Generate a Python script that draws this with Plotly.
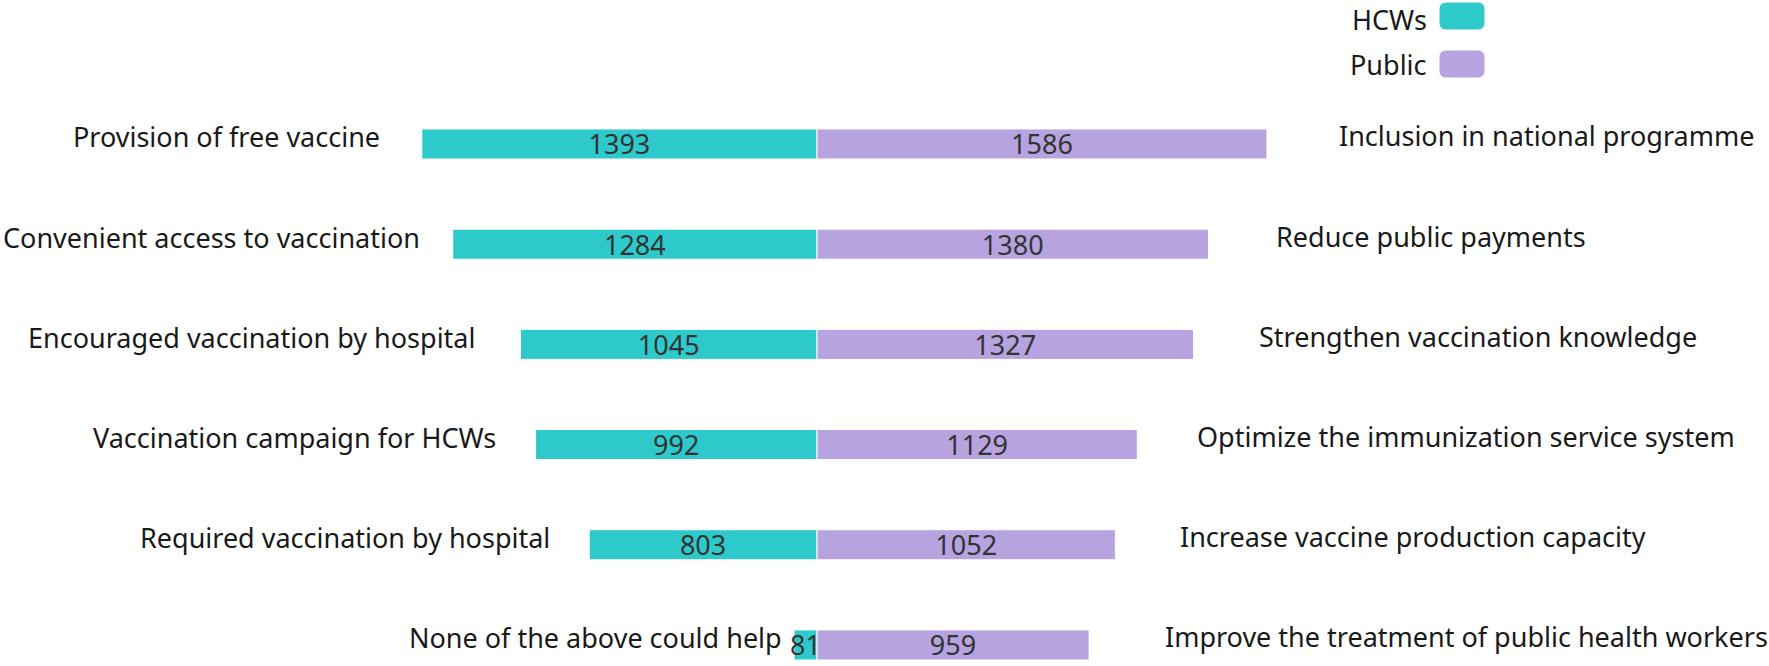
import plotly.graph_objects as go

# Data
hcw_labels = ["Provision of free vaccine", "Convenient access to vaccination",
              "Encouraged vaccination by hospital", "Vaccination campaign for HCWs",
              "Required vaccination by hospital", "None of the above could help"]
hcw_values = [1393, 1284, 1045, 992, 803, 81]
public_labels = ["Inclusion in national programme", "Reduce public payments",
                 "Strengthen vaccination knowledge", "Optimize the immunization service system",
                 "Increase vaccine production capacity", "Improve the treatment of public health workers"]
public_values = [1586, 1380, 1327, 1129, 1052, 959]

# label gap (px) from bar ends
left_gap = [40, 31, 44, 38, 37, 10]
right_gap = [70, 65, 64, 58, 63, 74]

TEAL = "#2ECACB"
LAV = "#B7A3E0"
FONT = "Noto Sans"
FS = 27

rows = list(range(len(hcw_values)))

fig = go.Figure()
fig.add_trace(go.Bar(
    y=rows, x=[-v for v in hcw_values], orientation="h", name="HCWs",
    marker=dict(color=TEAL, line=dict(color="white", width=1)),
    text=[str(v) for v in hcw_values], textposition="inside",
    insidetextanchor="middle", constraintext="none",
    textfont=dict(family=FONT, size=FS, color="#333333"),
    width=0.3, showlegend=False, hoverinfo="skip"))
fig.add_trace(go.Bar(
    y=rows, x=public_values, orientation="h", name="Public",
    marker=dict(color=LAV, line=dict(color="white", width=1)),
    text=[str(v) for v in public_values], textposition="inside",
    insidetextanchor="middle", constraintext="none",
    textfont=dict(family=FONT, size=FS, color="#333333"),
    width=0.3, showlegend=False, hoverinfo="skip"))

for i in rows:
    fig.add_annotation(x=-hcw_values[i], y=i, xref="x", yref="y", text=hcw_labels[i],
                       showarrow=False, xanchor="right", yanchor="middle",
                       xshift=-left_gap[i], yshift=7,
                       font=dict(family=FONT, size=FS, color="#1a1a1a"))
    fig.add_annotation(x=public_values[i], y=i, xref="x", yref="y", text=public_labels[i],
                       showarrow=False, xanchor="left", yanchor="middle",
                       xshift=right_gap[i], yshift=8,
                       font=dict(family=FONT, size=FS, color="#1a1a1a"))

# custom legend (text left of rounded swatch)
W, H = 1769, 666
legend_items = [("HCWs", TEAL, 16), ("Public", LAV, 64)]
for name, col, cy in legend_items:
    x0, x1 = 1440 / W, 1484 / W
    y0, y1 = 1 - (cy - 13) / H, 1 - (cy + 13) / H
    rx, ry = 6 / W, 6 / H
    path = (f"M {x0+rx},{y0} L {x1-rx},{y0} Q {x1},{y0} {x1},{y0-ry} L {x1},{y1+ry} "
            f"Q {x1},{y1} {x1-rx},{y1} L {x0+rx},{y1} Q {x0},{y1} {x0},{y1+ry} "
            f"L {x0},{y0-ry} Q {x0},{y0} {x0+rx},{y0} Z")
    fig.add_shape(type="path", path=path, xref="paper", yref="paper",
                  fillcolor=col, line=dict(color=col, width=1))
    fig.add_annotation(x=1428 / W, y=min(1.0, 1 - (cy - 19) / H), xref="paper", yref="paper",
                       text=name, showarrow=False, xanchor="right", yanchor="top", borderpad=0,
                       font=dict(family=FONT, size=FS, color="#1a1a1a"))

px_per_unit = 0.2837
zero_px = 817
fig.update_layout(
    width=W, height=H, barmode="relative",
    margin=dict(l=0, r=0, t=0, b=0),
    plot_bgcolor="white", paper_bgcolor="white",
    xaxis=dict(range=[-zero_px / px_per_unit, (W - zero_px) / px_per_unit],
               visible=False, fixedrange=True),
    yaxis=dict(range=[5.21, -1.437], visible=False, fixedrange=True),
    showlegend=False,
)
fig.write_html("out.html", config={"displayModeBar": False},
               post_script="document.body.style.margin='0';document.body.style.overflow='hidden';")
